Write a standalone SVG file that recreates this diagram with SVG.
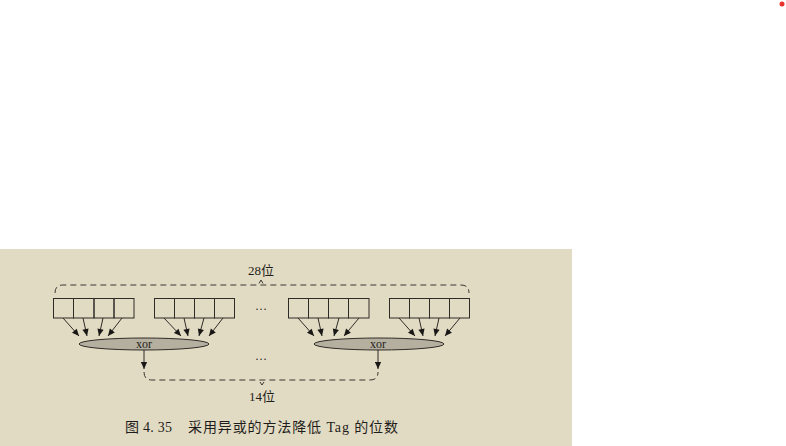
<svg xmlns="http://www.w3.org/2000/svg" width="786" height="446" viewBox="0 0 786 446">
<style>
.cell{fill:none;stroke:#2e2b27;stroke-width:1}
.ar{stroke:#2e2b27;stroke-width:1;fill:none;marker-end:url(#ah)}
.dash{fill:none;stroke:#3a3733;stroke-width:1;stroke-dasharray:6 4}
.ell{fill:#b4af9f;stroke:#2e2b27;stroke-width:1}
.t{font-family:"Liberation Serif","Noto Sans CJK SC",serif;fill:#1f1d1b}
</style>
<defs>
<marker id="ah" viewBox="0 0 10 10" refX="10" refY="5" markerWidth="10" markerHeight="7" markerUnits="userSpaceOnUse" orient="auto">
<path d="M0,0.5 L10,5 L0,9.5 Z" fill="#1a1816"/>
</marker>
</defs>
<rect x="0" y="0" width="786" height="446" fill="#ffffff"/>
<rect x="0" y="249" width="572" height="197" fill="#e2dbc3"/>
<circle cx="782" cy="4" r="2.5" fill="#e8322b"/>
<g id="group1">
<rect class="cell" x="53.5" y="298.5" width="20" height="19.5"/>
<rect class="cell" x="73.5" y="298.5" width="20.5" height="19.5"/>
<rect class="cell" x="94" y="298.5" width="20" height="19.5"/>
<rect class="cell" x="114" y="298.5" width="20" height="19.5"/>
</g>
<g id="group2">
<rect class="cell" x="154.5" y="298.5" width="20" height="19.5"/>
<rect class="cell" x="174.5" y="298.5" width="20" height="19.5"/>
<rect class="cell" x="194.5" y="298.5" width="20" height="19.5"/>
<rect class="cell" x="214.5" y="298.5" width="20" height="19.5"/>
</g>
<g id="group3">
<rect class="cell" x="288.5" y="298.5" width="20" height="19.5"/>
<rect class="cell" x="308.5" y="298.5" width="20" height="19.5"/>
<rect class="cell" x="328.5" y="298.5" width="20" height="19.5"/>
<rect class="cell" x="348.5" y="298.5" width="20.5" height="19.5"/>
</g>
<g id="group4">
<rect class="cell" x="389.5" y="298.5" width="20" height="19.5"/>
<rect class="cell" x="409.5" y="298.5" width="20" height="19.5"/>
<rect class="cell" x="429.5" y="298.5" width="20" height="19.5"/>
<rect class="cell" x="449.5" y="298.5" width="20" height="19.5"/>
</g>
<g id="xor1">
<ellipse class="ell" cx="144" cy="344" rx="65" ry="6"/>
<text class="t" x="144" y="348" font-size="12" text-anchor="middle">xor</text>
</g>
<g id="xor2">
<ellipse class="ell" cx="379" cy="344" rx="65" ry="6"/>
<text class="t" x="378" y="348" font-size="12" text-anchor="middle">xor</text>
</g>
<g id="connectors">
<line class="ar" x1="63" y1="318" x2="79" y2="336"/>
<line class="ar" x1="83" y1="318" x2="87" y2="336"/>
<line class="ar" x1="103" y1="318" x2="99" y2="336"/>
<line class="ar" x1="122" y1="318" x2="108" y2="336"/>
<line class="ar" x1="164" y1="318" x2="181" y2="336"/>
<line class="ar" x1="184" y1="318" x2="188" y2="336"/>
<line class="ar" x1="204" y1="318" x2="199" y2="336"/>
<line class="ar" x1="223" y1="318" x2="209" y2="336"/>
<line class="ar" x1="298" y1="318" x2="314" y2="336"/>
<line class="ar" x1="318" y1="318" x2="322" y2="336"/>
<line class="ar" x1="339" y1="318" x2="334" y2="336"/>
<line class="ar" x1="359" y1="318" x2="344" y2="336"/>
<line class="ar" x1="399" y1="318" x2="415" y2="336"/>
<line class="ar" x1="419" y1="318" x2="423" y2="336"/>
<line class="ar" x1="439" y1="318" x2="435" y2="336"/>
<line class="ar" x1="460" y1="318" x2="445" y2="336"/>
<line class="ar" x1="144" y1="350" x2="144" y2="369"/>
<line class="ar" x1="378" y1="350" x2="378" y2="369"/>
<path class="dash" d="M55,293 Q55,285 63,285 L461,285 Q469,285 469,293"/>
<path d="M259,283.5 L261,280 L263,283.5" fill="none" stroke="#3a3733" stroke-width="1"/>
<path class="dash" d="M144,372 Q144,380 152,380 L370,380 Q378,380 378,372"/>
<path d="M260,382 L262,385 L264,382" fill="none" stroke="#3a3733" stroke-width="1"/>
</g>
<text class="t" x="261" y="275" font-size="13" text-anchor="middle">28位</text>
<text class="t" x="262" y="401" font-size="13" text-anchor="middle">14位</text>
<text class="t" x="261" y="310" font-size="12" text-anchor="middle">…</text>
<text class="t" x="261" y="360" font-size="12" text-anchor="middle">…</text>
<text class="t" x="125" y="432" font-size="14" textLength="47" lengthAdjust="spacing">图 4. 35</text>
<text class="t" x="188" y="432" font-size="14" textLength="210" lengthAdjust="spacing">采用异或的方法降低 Tag 的位数</text>
</svg>
